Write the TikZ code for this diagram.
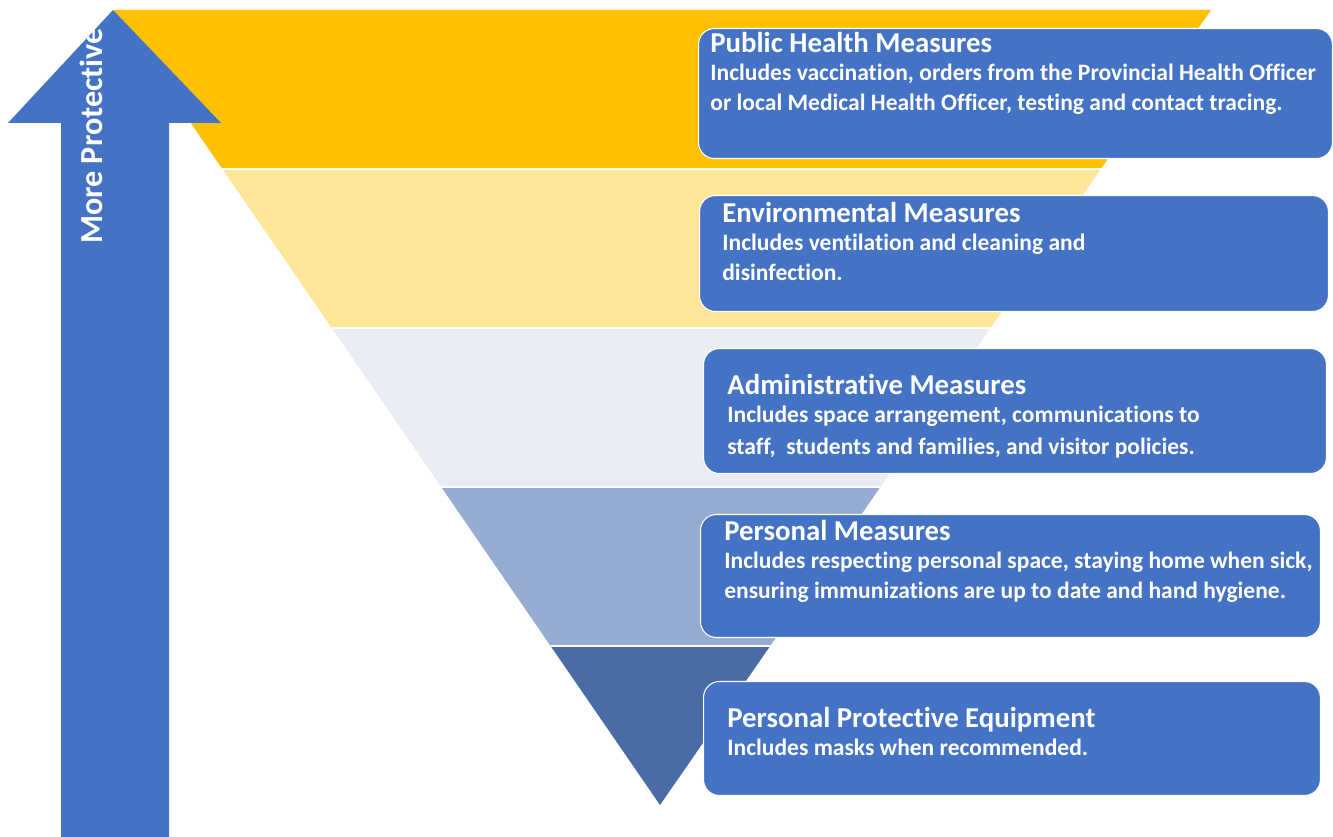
\documentclass[tikz,border=0pt]{standalone}
\usepackage{fontspec}
\setmainfont{Carlito}[Ligatures=NoCommon]
\usetikzlibrary{positioning,calc}

\definecolor{phmcol}{HTML}{FFC000}
\definecolor{envcol}{HTML}{FFE699}
\definecolor{admcol}{HTML}{E9EBF5}
\definecolor{percol}{HTML}{97ACD2}
\definecolor{ppecol}{HTML}{4A6CA6}
\definecolor{boxblue}{HTML}{4472C4}

\tikzstyle{mbox} = [draw=white, line width=0.6pt, fill=boxblue, rounded corners=0.32cm, inner sep=0pt, anchor=north west]
\tikzstyle{ttl} = [text=white, inner sep=0pt, font=\bfseries\fontsize{16.4}{19}\selectfont]
\tikzstyle{dsc} = [text=white, inner sep=0pt, align=left, font=\bfseries\fontsize{13.4}{16.9}\selectfont]

\begin{document}
\begin{tikzpicture}[x=0.02cm, y=-0.02cm]

\useasboundingbox (0,0) rectangle (1333,837);

% Inverted triangle
\coordinate (tl) at (113,10);
\coordinate (tr) at (1211,10);
\coordinate (apex) at (660,805);
\foreach \ta/\tb/\col in {0/0.2/phmcol, 0.2/0.4/envcol, 0.4/0.6/admcol, 0.6/0.8/percol, 0.8/1/ppecol} {%
 \fill[\col] ($(tl)!\ta!(apex)$) -- ($(tr)!\ta!(apex)$) -- ($(tr)!\tb!(apex)$) -- ($(tl)!\tb!(apex)$) -- cycle;
}
\foreach \t in {0.2,0.4,0.6,0.8} {%
 \draw[white, line width=1.6pt] ($(tl)!\t!(apex)$) -- ($(tr)!\t!(apex)$);
}

% Arrow
\fill[boxblue] (113,10) -- (221,123) -- (169,123) -- (169,837) -- (61,837) -- (61,123) -- (8,123) -- cycle;
\node[rotate=90, text=white, inner sep=0pt, font=\bfseries\fontsize{18.3}{21}\selectfont] (moreprot) at (91,136) {More Protective};

%PUBLIC HEALTH
\node[mbox, minimum width=12.68cm, minimum height=2.6cm] (box1) at (698,28) {};
\node[ttl, below right=0.49cm and 0.24cm of box1.north west, anchor=base west] (ttl1) {Public Health Measures};
\node[dsc, below right=0.22cm and 0cm of ttl1.base west] (dsc1) {Includes vaccination, orders from the Provincial Health Officer\\or local Medical Health Officer, testing and contact tracing.};

%ENVIRONMENTAL
\node[mbox, minimum width=12.58cm, minimum height=2.32cm] (box2) at (699,195) {};
\node[ttl, below right=0.55cm and 0.46cm of box2.north west, anchor=base west] (ttl2) {Environmental Measures};
\node[dsc, below right=0.22cm and 0cm of ttl2.base west] (dsc2) {Includes ventilation and cleaning and\\disinfection.};

%ADMINISTRATIVE
\node[mbox, minimum width=12.46cm, minimum height=2.5cm] (box3) at (703,348) {};
\node[ttl, below right=0.93cm and 0.48cm of box3.north west, anchor=base west] (ttl3) {Administrative Measures};
\node[dsc, below right=0.22cm and 0cm of ttl3.base west, font=\bfseries\fontsize{13.4}{18.3}\selectfont] (dsc3) {Includes space arrangement, communications to\\staff,~ students and families, and visitor policies.};

%PERSONAL
\node[mbox, minimum width=12.4cm, minimum height=2.46cm] (box4) at (700,514) {};
\node[ttl, below right=0.53cm and 0.48cm of box4.north west, anchor=base west] (ttl4) {Personal Measures};
\node[dsc, below right=0.22cm and 0cm of ttl4.base west] (dsc4) {Includes respecting personal space, staying home when sick,\\ensuring immunizations are up to date and hand hygiene.};

%PPE
\node[mbox, minimum width=12.34cm, minimum height=2.28cm] (box5) at (703,681) {};
\node[ttl, below right=0.93cm and 0.48cm of box5.north west, anchor=base west] (ttl5) {Personal Protective Equipment};
\node[dsc, below right=0.22cm and 0cm of ttl5.base west] (dsc5) {Includes masks when recommended.};

\end{tikzpicture}
\end{document}
